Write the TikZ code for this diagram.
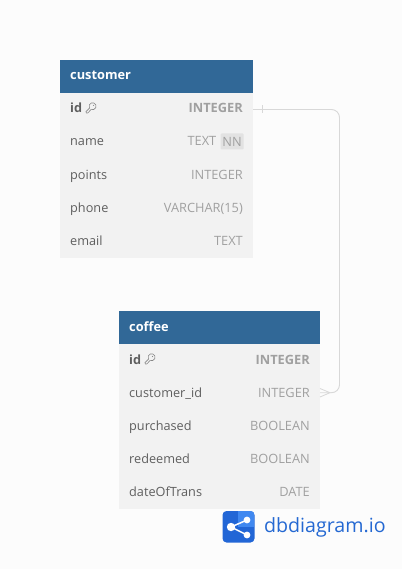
\documentclass[tikz,border=0pt]{standalone}
\usepackage{fontspec}
\setmainfont{Open Sans}
\definecolor{hdr}{HTML}{316897}
\definecolor{rowbg}{HTML}{F2F2F2}
\definecolor{pagebg}{HTML}{FCFCFC}
\definecolor{fieldc}{HTML}{5F5F5F}
\definecolor{typec}{HTML}{A0A0A0}
\definecolor{linec}{HTML}{D8D8D8}
\definecolor{nnbg}{HTML}{E2E2E2}
\definecolor{logoA}{HTML}{2266D6}
\definecolor{logoB}{HTML}{4088F0}
\definecolor{logot}{HTML}{2468D2}
\begin{document}
\begin{tikzpicture}[x=1pt,y=-1pt,
  fixedline/.style={inner sep=0pt,text height=10pt,text depth=3pt,yshift=-1pt},
  tablebody/.style={fill=rowbg,draw=none},
  tablehead/.style={fill=hdr,draw=none},
  tabletitle/.style={fixedline,anchor=west,font=\fontsize{12.8}{13}\selectfont\bfseries,text=white},
  fieldname/.style={fixedline,anchor=west,font=\fontsize{12.7}{13}\selectfont,text=fieldc},
  pkname/.style={fixedline,anchor=west,font=\fontsize{12.7}{13}\selectfont\bfseries,text=fieldc},
  typename/.style={fixedline,anchor=east,font=\fontsize{12.8}{13}\selectfont,text=typec},
  pktype/.style={fixedline,anchor=east,font=\fontsize{12.8}{13}\selectfont\bfseries,text=typec},
  conn/.style={draw=linec,line width=0.9pt,rounded corners=8pt},
  tickline/.style={draw=linec,line width=0.8pt},
  keyglyph/.pic={
    \draw[draw=fieldc!75,line width=0.6pt,line join=round]
      (-3,1.6) -- (-6.8,5.4) -- (-6.2,6.8) -- (-4.8,6.6) -- (-1.6,3.1)
      arc[start angle=115,end angle=-205,radius=3.5] -- cycle;
    \fill[fieldc!75] (0.8,-0.9) circle (0.6);
  }]
\useasboundingbox (0,0) rectangle (402,569);
\fill[pagebg] (0,0) rectangle (402,569);

% customer table
\fill[tablebody] (60,93) rectangle (253,258);
\fill[tablehead] (60,60) rectangle (253,93);
\node[tabletitle] (ct) at (70,75.5) {customer};
\node[pkname] (c1) at (70,108.5) {id};
\node[pktype] (c1t) at (243,108.5) {INTEGER};
\node[fieldname] (c2) at (70,141.5) {name};
\node[fill=nnbg,inner sep=0pt,minimum width=23pt,minimum height=16pt,rounded corners=1pt,font=\fontsize{12.8}{13}\selectfont,text=typec] (cnn) at (232,141.5) {NN};
\node[typename] (c2t) at (216.5,141.5) {TEXT};
\node[fieldname] (c3) at (70,174.5) {points};
\node[typename] (c3t) at (243,174.5) {INTEGER};
\node[fieldname] (c4) at (70,207.5) {phone};
\node[typename] (c4t) at (243,207.5) {VARCHAR(15)};
\node[fieldname] (c5) at (70,240.5) {email};
\node[typename] (c5t) at (243,240.5) {TEXT};
\coordinate (cr) at (253,109.5);
\pic at (92.7,106.3) {keyglyph};

% coffee table
\fill[tablebody] (119,344) rectangle (320,509);
\fill[tablehead] (119,311) rectangle (320,344);
\node[tabletitle] (ft) at (129,326.5) {coffee};
\node[pkname] (f1) at (129,359.5) {id};
\node[pktype] (f1t) at (310,359.5) {INTEGER};
\node[fieldname] (f2) at (129,392.5) {customer\_id};
\node[typename] (f2t) at (310,392.5) {INTEGER};
\node[fieldname] (f3) at (129,425.5) {purchased};
\node[typename] (f3t) at (310,425.5) {BOOLEAN};
\node[fieldname] (f4) at (129,458.5) {redeemed};
\node[typename] (f4t) at (310,458.5) {BOOLEAN};
\node[fieldname] (f5) at (129,491.5) {dateOfTrans};
\node[typename] (f5t) at (310,491.5) {DATE};
\coordinate (fr) at (320,392.7);
\pic at (151.7,357.3) {keyglyph};

% connector
\coordinate (corner1) at (339.5,109.5);
\coordinate (corner2) at (339.5,392.7);
\draw[conn] (cr) -- (corner1) -- (corner2) -- (fr);
\coordinate (tickT) at (262.8,105.5);
\coordinate (tickB) at (262.8,113.5);
\draw[tickline] (tickT) -- (tickB);
\coordinate (crowT) at (320,388.5);
\coordinate (crowB) at (320,397);
\coordinate (crowA) at (330,392.7);
\draw[tickline] (crowT) -- (crowA) -- (crowB);

% logo
\fill[logoA,rounded corners=4pt] (222.5,511) rectangle (254.5,542.5);
\begin{scope}
\clip[rounded corners=4pt] (222.5,511) rectangle (254.5,542.5);
\fill[logoB] (238,511) rectangle (254.5,527);
\end{scope}
\coordinate (lgA) at (247,520);
\coordinate (lgB) at (231,527);
\coordinate (lgC) at (247,535);
\draw[white,line width=1.5pt] (lgA) -- (lgB) -- (lgC);
\fill[white] (lgB) circle (4.2) (lgA) circle (3.4) (lgC) circle (3.4);
\node[anchor=west,inner sep=0pt,text=logot,font=\fontsize{19.6}{20}\selectfont] (lg) at (264,527) {dbdiagram.io};
\end{tikzpicture}
\end{document}
